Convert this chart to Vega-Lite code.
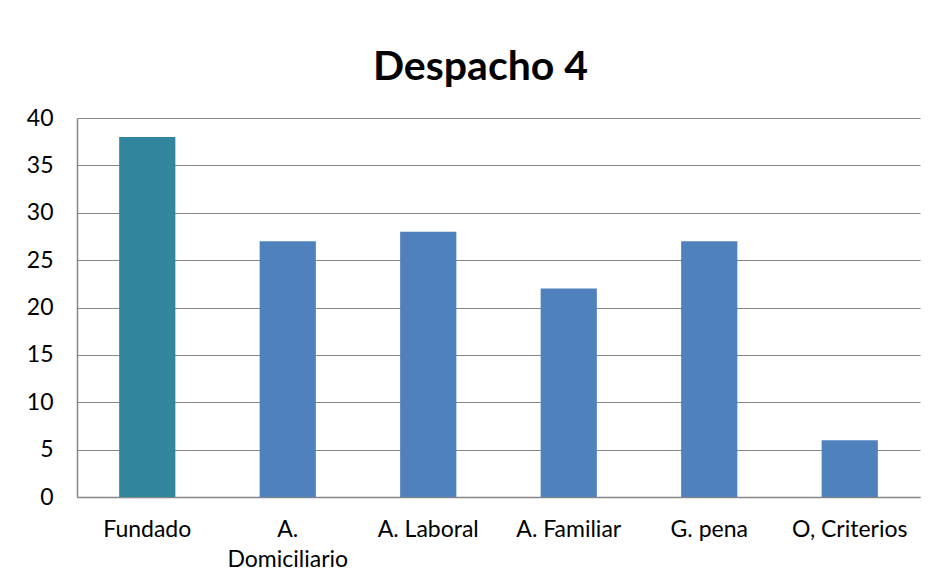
{
  "$schema": "https://vega.github.io/schema/vega-lite/v6.json",
  "width": 843,
  "height": 379,
  "autosize": {"type": "none"},
  "padding": {"left": 77, "top": 118, "right": 13, "bottom": 87},
  "background": "white",
  "title": {
    "text": "Despacho 4",
    "font": "Lato",
    "fontSize": 41,
    "fontWeight": "bold",
    "color": "#000000",
    "anchor": "middle",
    "frame": "group",
    "baseline": "alphabetic",
    "dx": -18,
    "dy": 52,
    "offset": 38
  },
  "data": {
    "values": [
      {"categoria": "Fundado", "valor": 38, "grupo": "a"},
      {"categoria": "A. Domiciliario", "valor": 27, "grupo": "b"},
      {"categoria": "A. Laboral", "valor": 28, "grupo": "b"},
      {"categoria": "A. Familiar", "valor": 22, "grupo": "b"},
      {"categoria": "G. pena", "valor": 27, "grupo": "b"},
      {"categoria": "O, Criterios", "valor": 6, "grupo": "b"}
    ]
  },
  "mark": {"type": "bar"},
  "encoding": {
    "x": {
      "field": "categoria",
      "type": "nominal",
      "sort": null,
      "scale": {"paddingInner": 0.6, "paddingOuter": 0.3},
      "axis": {
        "title": null,
        "labelAngle": 0,
        "labelFont": "Lato",
        "labelFontSize": 23,
        "labelColor": "#000000",
        "labelPadding": 21,
        "labelLineHeight": 30,
        "labelExpr": "datum.label == 'A. Domiciliario' ? ['A.', 'Domiciliario'] : datum.label",
        "ticks": false,
        "domainColor": "#868686",
        "domainWidth": 1.5,
        "grid": false
      }
    },
    "y": {
      "field": "valor",
      "type": "quantitative",
      "scale": {"domain": [0, 40], "nice": false},
      "axis": {
        "title": null,
        "values": [0, 5, 10, 15, 20, 25, 30, 35, 40],
        "labelFont": "Lato",
        "labelFontSize": 23,
        "labelColor": "#000000",
        "labelPadding": 24,
        "ticks": false,
        "domainColor": "#868686",
        "domainWidth": 1.5,
        "gridColor": "#868686",
        "gridWidth": 1.2,
        "gridOpacity": 1
      }
    },
    "color": {
      "field": "grupo",
      "type": "nominal",
      "scale": {"domain": ["a", "b"], "range": ["#31859C", "#4F81BD"]},
      "legend": null
    }
  },
  "config": {
    "view": {"stroke": null}
  }
}
